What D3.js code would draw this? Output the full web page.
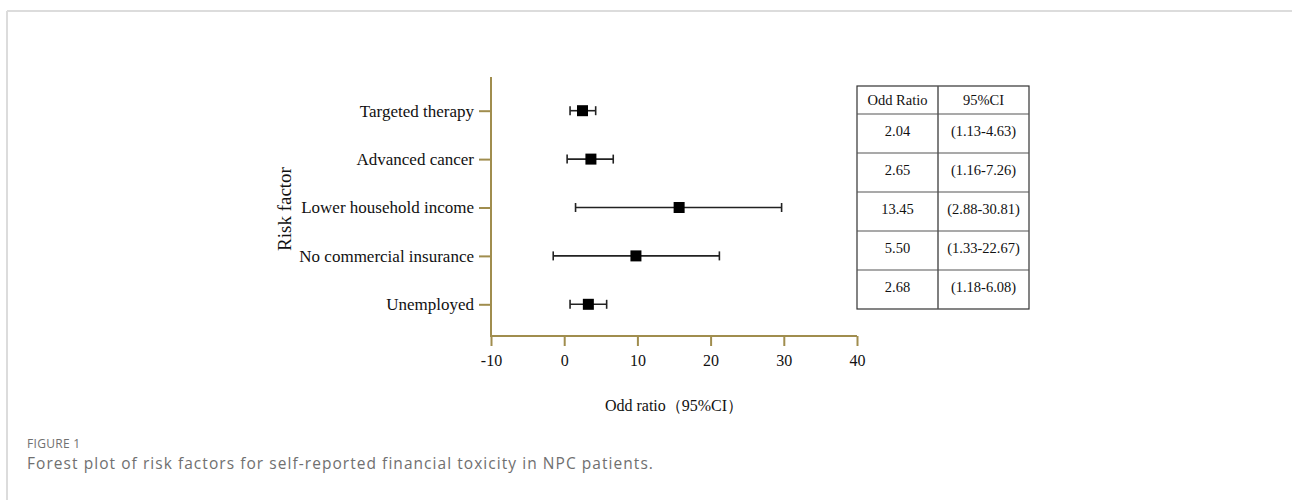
<!DOCTYPE html>
<html><head><meta charset="utf-8">
<script src="https://cdn.jsdelivr.net/npm/d3@7"></script>
<style>
html,body{margin:0;padding:0;background:#fff;}
svg{display:block;}
</style></head>
<body>
<svg id="chart" width="1292" height="500"></svg>
<script>
const categories = ["Targeted therapy","Advanced cancer","Lower household income","No commercial insurance","Unemployed"];
const oddRatio = [2.5, 3.65, 15.7, 9.8, 3.3];
const ciLow = [0.8, 0.4, 1.55, -1.5, 0.8];
const ciHigh = [4.3, 6.7, 29.7, 21.2, 5.8];
const xTicks = [-10, 0, 10, 20, 30, 40];
const tableHeader = ["Odd Ratio", "95%CI"];
const tableOR = ["2.04", "2.65", "13.45", "5.50", "2.68"];
const tableCI = ["(1.13-4.63)", "(1.16-7.26)", "(2.88-30.81)", "(1.33-22.67)", "(1.18-6.08)"];

const svg = d3.select("#chart");
const serif = "'Liberation Serif','Times New Roman',serif";
const sans = "'Open Sans','Noto Sans',sans-serif";
const axisColor = "#a08d4e";

// frame
svg.append("line").attr("x1",7).attr("x2",1292).attr("y1",11).attr("y2",11).attr("stroke","#dcdcdc").attr("stroke-width",2);
svg.append("line").attr("x1",7).attr("x2",7).attr("y1",11).attr("y2",500).attr("stroke","#dcdcdc").attr("stroke-width",2);

const x = d3.scaleLinear().domain([-10, 40]).range([491, 857]);
const y = d3.scalePoint().domain(categories).range([110.7, 304.3]);
const axisTop = 77, axisBottom = 336;

// x axis
const gx = svg.append("g").attr("transform", `translate(0,${axisBottom})`)
  .call(d3.axisBottom(x).tickValues(xTicks).tickSize(10).tickSizeOuter(0).tickPadding(9).tickFormat(d => String(d)));
gx.select(".domain").remove();
gx.append("line").attr("x1",491).attr("x2",857).attr("y1",0).attr("y2",0).attr("stroke",axisColor).attr("stroke-width",2);
gx.selectAll(".tick line").attr("stroke",axisColor).attr("stroke-width",2);
gx.selectAll(".tick text").attr("fill","#111").style("font-family",serif).style("font-size","16px");

// y axis
const gy = svg.append("g").attr("transform", `translate(491,0)`)
  .call(d3.axisLeft(y).tickSize(12).tickPadding(5));
gy.select(".domain").remove();
gy.append("line").attr("x1",0).attr("x2",0).attr("y1",axisTop).attr("y2",axisBottom+1).attr("stroke",axisColor).attr("stroke-width",2);
gy.selectAll(".tick line").attr("stroke",axisColor).attr("stroke-width",2);
gy.selectAll(".tick text").attr("fill","#111").style("font-family",serif).style("font-size","17px");

// axis titles
svg.append("text").attr("x", x(15)).attr("y", 411).attr("text-anchor","middle")
  .style("font-family",serif).style("font-size","16px").attr("fill","#111").text("Odd ratio（95%CI）");
svg.append("text").attr("transform", `translate(291,209) rotate(-90)`).attr("text-anchor","middle")
  .style("font-family",serif).style("font-size","19px").attr("fill","#111").text("Risk factor");

// error bars
const rows = categories.map((c,i)=>({c, or: oddRatio[i], lo: ciLow[i], hi: ciHigh[i]}));
const g = svg.append("g");
g.selectAll("line.ci").data(rows).join("line").attr("class","ci")
  .attr("x1", d=>x(d.lo)).attr("x2", d=>x(d.hi)).attr("y1", d=>y(d.c)).attr("y2", d=>y(d.c))
  .attr("stroke","#222").attr("stroke-width",1.6);
g.selectAll("line.capL").data(rows).join("line").attr("class","capL")
  .attr("x1", d=>x(d.lo)).attr("x2", d=>x(d.lo)).attr("y1", d=>y(d.c)-4.5).attr("y2", d=>y(d.c)+4.5)
  .attr("stroke","#222").attr("stroke-width",1.6);
g.selectAll("line.capR").data(rows).join("line").attr("class","capR")
  .attr("x1", d=>x(d.hi)).attr("x2", d=>x(d.hi)).attr("y1", d=>y(d.c)-4.5).attr("y2", d=>y(d.c)+4.5)
  .attr("stroke","#222").attr("stroke-width",1.6);
g.selectAll("rect.pt").data(rows).join("rect").attr("class","pt")
  .attr("x", d=>x(d.or)-5.5).attr("y", d=>y(d.c)-5.5).attr("width",11).attr("height",11).attr("fill","#000");

// table
const tLeft = 857, tMid = 938, tRight = 1029, tTop = 86, tHead = 114, tBottom = 309;
const rowScale = d3.scaleLinear().domain([0, tableOR.length]).range([tHead, tBottom]);
const tg = svg.append("g");
tg.append("rect").attr("x",tLeft).attr("y",tTop).attr("width",tRight-tLeft).attr("height",tBottom-tTop)
  .attr("fill","none").attr("stroke","#333").attr("stroke-width",1.2);
tg.append("line").attr("x1",tMid).attr("x2",tMid).attr("y1",tTop).attr("y2",tBottom).attr("stroke","#555").attr("stroke-width",1.5);
d3.range(tableOR.length).forEach(i=>{
  tg.append("line").attr("x1",tLeft).attr("x2",tRight).attr("y1",rowScale(i)).attr("y2",rowScale(i)).attr("stroke","#555").attr("stroke-width",1.2);
});
const c1 = (tLeft+tMid)/2, c2 = (tMid+tRight)/2;
const tfs = "14.5px";
tg.append("text").attr("x",c1).attr("y",tTop+19).attr("text-anchor","middle").style("font-family",serif).style("font-size",tfs).attr("fill","#111").text(tableHeader[0]);
tg.append("text").attr("x",c2).attr("y",tTop+19).attr("text-anchor","middle").style("font-family",serif).style("font-size",tfs).attr("fill","#111").text(tableHeader[1]);
tg.selectAll("text.or").data(tableOR).join("text").attr("class","or")
  .attr("x",c1).attr("y",(d,i)=>rowScale(i)+22).attr("text-anchor","middle")
  .style("font-family",serif).style("font-size",tfs).attr("fill","#111").text(d=>d);
tg.selectAll("text.cit").data(tableCI).join("text").attr("class","cit")
  .attr("x",c2).attr("y",(d,i)=>rowScale(i)+22).attr("text-anchor","middle")
  .style("font-family",serif).style("font-size",tfs).attr("fill","#111").text(d=>d);

// caption
svg.append("text").attr("x",27).attr("y",448).style("font-family",sans).style("font-size","12px")
  .style("letter-spacing","0.3px").attr("fill","#707070").text("FIGURE 1");
svg.append("text").attr("x",27).attr("y",469).style("font-family",sans).style("font-size","15.5px")
  .style("letter-spacing","1.05px").attr("fill","#707070").text("Forest plot of risk factors for self-reported financial toxicity in NPC patients.");
</script>
</body></html>
